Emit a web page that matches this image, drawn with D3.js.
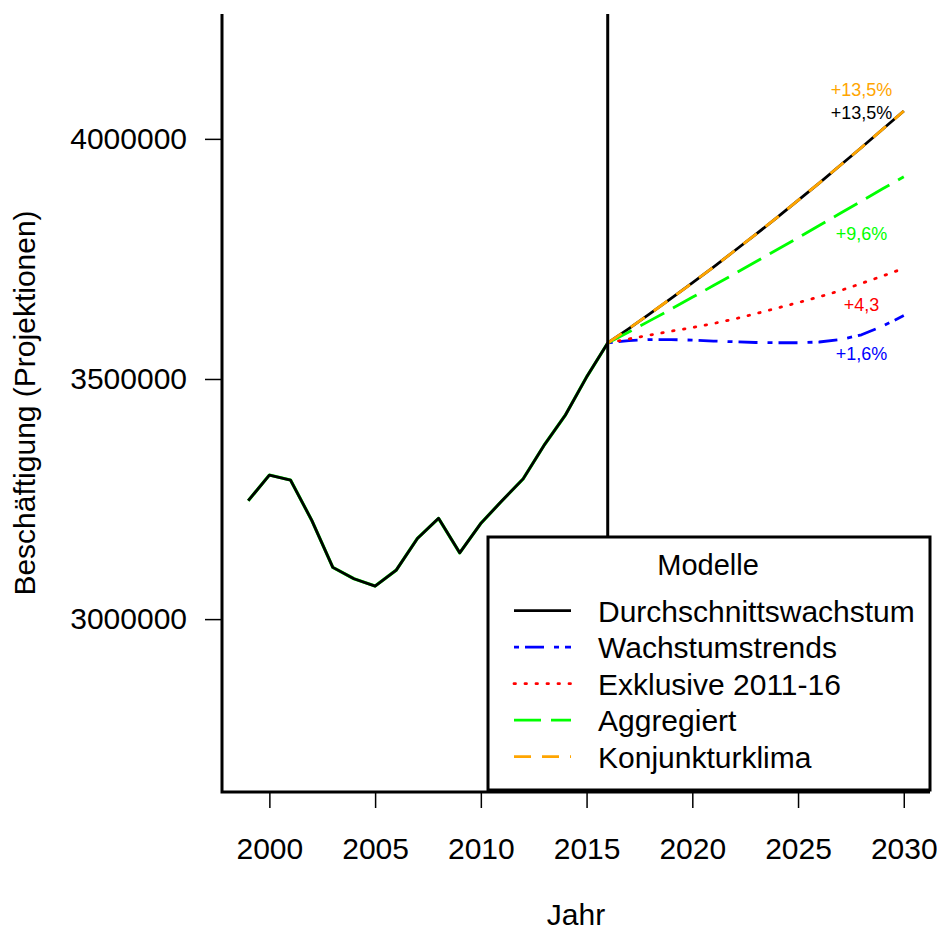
<!DOCTYPE html>
<html>
<head>
<meta charset="utf-8">
<script src="https://cdn.jsdelivr.net/npm/d3@7"></script>
<style>
  html, body { margin: 0; padding: 0; background: #fff; }
  svg { display: block; font-family: "Liberation Sans", Arial, sans-serif; }
</style>
</head>
<body>
<svg id="chart" width="937" height="930"></svg>
<script>
// ---------- data ----------
const histYears = [1999,2000,2001,2002,2003,2004,2005,2006,2007,2008,2009,2010,2011,2012,2013,2014,2015,2016];
const histValues = [3246500,3300000,3289600,3206000,3107700,3084000,3068750,3102000,3168000,3209800,3138000,3199400,3246500,3292000,3362500,3425000,3504000,3575000];

const projYears = [2016,2017,2018,2019,2020,2021,2022,2023,2024,2025,2026,2027,2028,2029,2030];
const durchschnitt = [3575000,3605000,3636000,3668000,3700000,3733000,3767000,3801000,3836000,3872000,3908000,3945000,3982000,4020000,4058000];
const wachstumstrends = [3575000,3580000,3582000,3582000,3581000,3579000,3577500,3576000,3575500,3575500,3577000,3582000,3592000,3610000,3632000];
const exklusive = [3575000,3583500,3591500,3599500,3607000,3615500,3625000,3636000,3647500,3659000,3671000,3684000,3699000,3714500,3730500];
const aggregiert = [3575000,3598000,3621500,3645500,3670000,3694500,3719000,3744000,3769000,3794000,3819500,3845000,3870500,3896000,3921000];
const konjunktur = durchschnitt.slice();

const seriesNames = ["Durchschnittswachstum","Wachstumstrends","Exklusive 2011-16","Aggregiert","Konjunkturklima"];
const seriesColors = ["#000000","#0000FF","#FF0000","#00FF00","#FFA500"];
const seriesDash = [null,"5,6,19,10","1.5,9.5","27,10","17,11"];

const annoTexts = ["+13,5%","+13,5%","+9,6%","+4,3","+1,6%"];
const annoColors = ["#FFA500","#000000","#00FF00","#FF0000","#0000FF"];
const annoYear = 2028;
const annoValues = [4103000,4055000,3803000,3654000,3553000];

const xTicks = [2000,2005,2010,2015,2020,2025,2030];
const yTicks = [3000000,3500000,4000000];
const yLabel = "Beschäftigung (Projektionen)";
const xLabel = "Jahr";
const legendTitle = "Modelle";

// ---------- layout ----------
const svg = d3.select("#chart");
const L = 222, R = 930, T = 14, B = 792;
const x = d3.scaleLinear().domain([1997.76, 2031.24]).range([L, R]);
const y = d3.scaleLinear().domain([2640000, 4260000]).range([B, T]);

// axes
const gx = svg.append("g").attr("transform", `translate(0,${B})`)
  .call(d3.axisBottom(x).tickValues(xTicks).tickFormat(d3.format("d")).tickSize(16).tickPadding(30));
const gy = svg.append("g").attr("transform", `translate(${L},0)`)
  .call(d3.axisLeft(y).tickValues(yTicks).tickFormat(d3.format("d")).tickSize(17).tickPadding(18));
[gx, gy].forEach(g => {
  g.select(".domain").remove();
  g.selectAll(".tick line").attr("stroke", "#000").attr("stroke-width", 1.5);
  g.selectAll(".tick text").attr("fill", "#000").attr("font-size", 30)
    .attr("font-family", "'Liberation Sans', Arial, sans-serif");
});

// axis labels
svg.append("text").attr("x", (L + R) / 2).attr("y", 925).attr("text-anchor", "middle")
  .attr("font-size", 30).text(xLabel);
svg.append("text").attr("transform", `translate(35,${(T + B) / 2}) rotate(-90)`)
  .attr("text-anchor", "middle").attr("font-size", 30).text(yLabel);

// lines
const line = d3.line().x(d => x(d[0])).y(d => y(d[1]));
const hist = histYears.map((yr, i) => [yr, histValues[i]]);
svg.append("path").datum(hist).attr("d", line).attr("fill", "none")
  .attr("stroke", "#00FF00").attr("stroke-width", 3.2).attr("stroke-linejoin", "round");
svg.append("path").datum(hist).attr("d", line).attr("fill", "none")
  .attr("stroke", "#000").attr("stroke-width", 2.8).attr("stroke-linejoin", "round");

const projSeries = [durchschnitt, wachstumstrends, exklusive, aggregiert, konjunktur];
projSeries.forEach((vals, k) => {
  const data = projYears.map((yr, i) => [yr, vals[i]]);
  const p = svg.append("path").datum(data).attr("d", line).attr("fill", "none")
    .attr("stroke", seriesColors[k]).attr("stroke-width", 2.8).attr("stroke-linejoin", "round");
  if (seriesDash[k]) p.attr("stroke-dasharray", seriesDash[k]);
  if (k === 2) p.attr("stroke-linecap", "round");
});

// annotations
annoTexts.forEach((t, i) => {
  svg.append("text").attr("x", x(annoYear)).attr("y", y(annoValues[i]))
    .attr("dy", "0.35em").attr("text-anchor", "middle").attr("font-size", 18)
    .attr("fill", annoColors[i]).text(t);
});

// vertical line at 2016
svg.append("line").attr("x1", x(2016)).attr("x2", x(2016)).attr("y1", T).attr("y2", B)
  .attr("stroke", "#000").attr("stroke-width", 3);

// box (bty = "l")
svg.append("path").attr("d", `M${L},${T}V${B}H${R}`).attr("fill", "none")
  .attr("stroke", "#000").attr("stroke-width", 3);

// legend
const lg = svg.append("g");
const lx0 = 488, ly0 = 537, lx1 = R, ly1 = 790;
lg.append("rect").attr("x", lx0).attr("y", ly0).attr("width", lx1 - lx0).attr("height", ly1 - ly0)
  .attr("fill", "#fff").attr("stroke", "#000").attr("stroke-width", 3);
lg.append("text").attr("x", 708).attr("y", 575).attr("text-anchor", "middle")
  .attr("font-size", 29).text(legendTitle);
seriesNames.forEach((name, i) => {
  const yy = 610.7 + i * 36.5;
  const ln = lg.append("line").attr("x1", 514).attr("x2", 571).attr("y1", yy).attr("y2", yy)
    .attr("stroke", seriesColors[i]).attr("stroke-width", 2.8);
  if (seriesDash[i]) ln.attr("stroke-dasharray", seriesDash[i]);
  if (i === 2) ln.attr("stroke-linecap", "round");
  lg.append("text").attr("x", 598).attr("y", yy + 11).attr("font-size", 30).text(name);
});
</script>
</body>
</html>
